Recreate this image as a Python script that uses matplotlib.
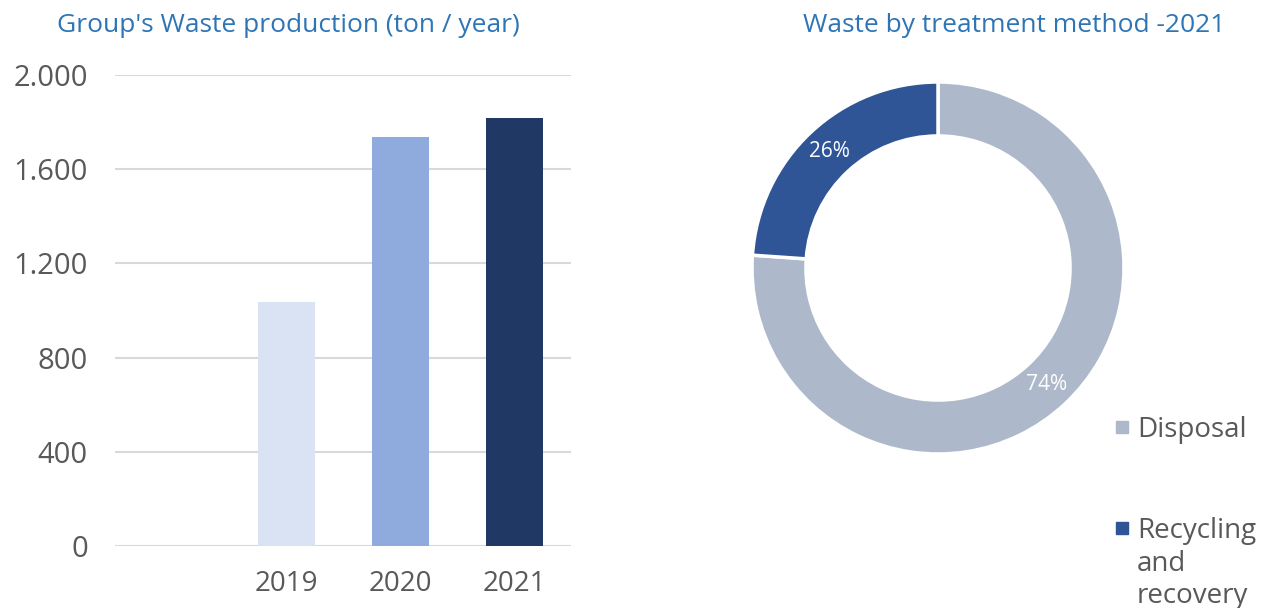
import matplotlib
matplotlib.use('Agg')
import matplotlib.pyplot as plt
from matplotlib.lines import Line2D
import numpy as np

plt.rcParams['font.family'] = ['Open Sans', 'DejaVu Sans']

# ── Data ──
years = ['', '2019', '2020', '2021']          # first slot is empty in the source chart
waste = [np.nan, 1035, 1737, 1817]
bar_colors = ['#DAE3F3', '#DAE3F3', '#8FAADC', '#203864']
yticks = [0, 400, 800, 1200, 1600, 2000]
ytick_labels = ['0', '400', '800', '1.200', '1.600', '2.000']

methods = ['Disposal', 'Recycling\nand\nrecovery']
shares = [76.1, 23.9]                           # as drawn in the picture
share_labels = ['74%', '26%']                   # as printed on the picture
pie_colors = ['#ADB9CA', '#2F5597']

title_col = '#2E75B6'
text_col = '#595959'
W, H = 1266, 608

fig = plt.figure(figsize=(12.66, 6.08), dpi=100)

# ── Bar chart ──
ax = fig.add_axes([115 / W, 1 - 546 / H, 456 / W, 471 / H])
x = np.arange(len(years))
ax.bar(x, waste, width=0.5, color=bar_colors, zorder=3)
ax.set_xlim(-0.5, len(years) - 0.5)
ax.set_ylim(0, 2000)
ax.set_yticks(yticks)
ax.set_yticklabels(ytick_labels)
ax.set_xticks(x)
ax.set_xticklabels(years)
ax.yaxis.grid(True, color='#D9D9D9', linewidth=1.5, zorder=0)
ax.set_axisbelow(True)
for s in ax.spines.values():
    s.set_visible(False)
ax.tick_params(axis='both', length=0, colors=text_col)
ax.tick_params(axis='y', pad=19.5, labelsize=21)
ax.tick_params(axis='x', pad=17, labelsize=20)
fig.text(288 / W, 1 - 25 / H, "Group's Waste production (ton / year)",
         ha='center', va='center', fontsize=19, color=title_col)

# ── Donut ──
pax = fig.add_axes([752 / W, 1 - 454 / H, 372 / W, 372 / H])
wedges, _ = pax.pie(shares, colors=pie_colors, startangle=90, counterclock=False,
                    radius=1, wedgeprops=dict(width=0.29, edgecolor='white', linewidth=2.5))
# labels at the ring midline, centred on each wedge
for w, lab in zip(wedges, share_labels):
    ang = np.deg2rad((w.theta1 + w.theta2) / 2)
    pax.text(0.855 * np.cos(ang), 0.855 * np.sin(ang), lab, ha='center', va='center',
             fontsize=15, color='white')
pax.set_xlim(-1, 1)
pax.set_ylim(-1, 1)
pax.set_aspect('equal')
fig.text(1014 / W, 1 - 25 / H, 'Waste by treatment method -2021',
         ha='center', va='center', fontsize=19, color=title_col)

# legend, handle aligned with the first line of each label
legend_y = [427, 528]
for lab, col, yy in zip(methods, pie_colors, legend_y):
    fig.add_artist(Line2D([1121.5 / W], [1 - yy / H], marker='s', markersize=8.5,
                          linestyle='', color=col, transform=fig.transFigure))
    fig.text(1137 / W, 1 - (yy - 11) / H, lab, ha='left', va='top',
             fontsize=20, color=text_col, linespacing=1.22)

fig.savefig('out.png', dpi=100)
